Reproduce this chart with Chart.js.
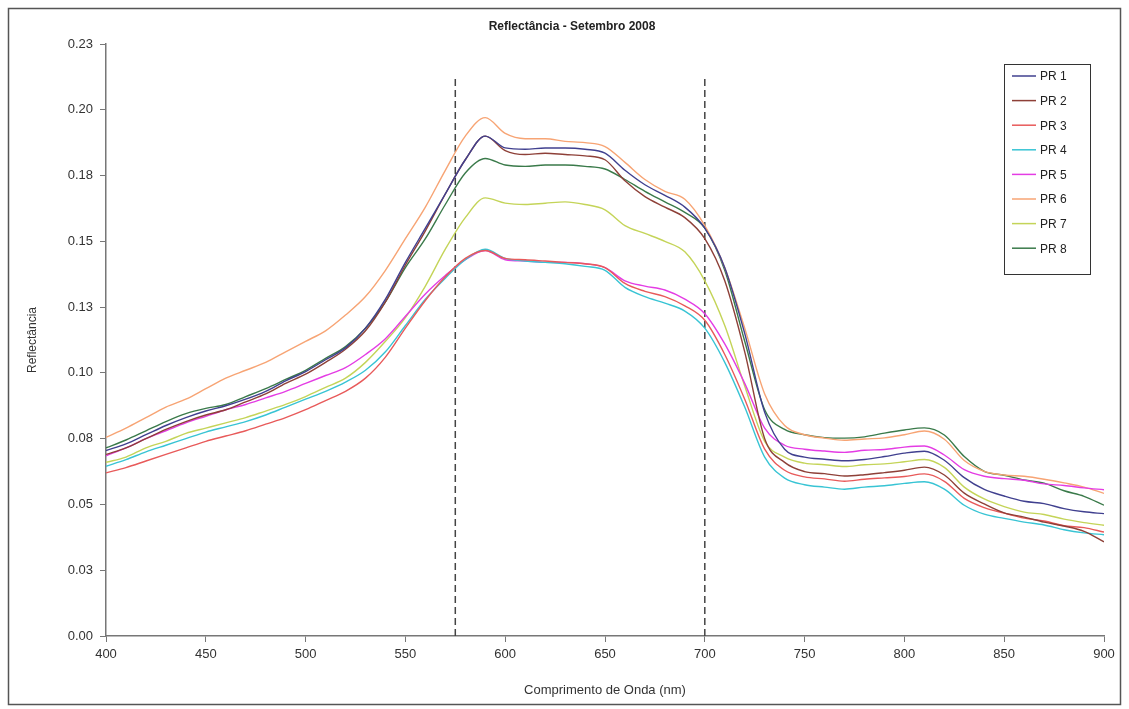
<!DOCTYPE html>
<html>
<head>
<meta charset="utf-8">
<title>Reflectância - Setembro 2008</title>
<script src="https://cdn.jsdelivr.net/npm/chart.js@4.4.1/dist/chart.umd.min.js"></script>
<style>
  html, body { margin: 0; padding: 0; background: #fff; }
  #wrap { position: relative; width: 1129px; height: 709px; }
</style>
</head>
<body>
<div id="wrap"><canvas id="reflChart" width="1129" height="709"></canvas></div>
<script>
// wavelengths (nm)
const wavelengths = [400,410,420,430,440,450,460,470,480,490,500,510,520,530,540,550,560,570,580,590,
  600,610,620,630,640,650,660,670,680,690,700,710,720,730,740,750,760,770,780,790,
  800,810,820,830,840,850,860,870,880,890,900];

const pr1 = [.0705,.073,.0765,.080,.083,.0855,.0875,.090,.093,.097,.1005,.105,.1095,.117,.128,.142,.155,.168,.181,.190,
  .1855,.185,.1855,.1855,.185,.1835,.177,.1715,.1675,.163,.155,.140,.115,.085,.071,.068,.0672,.0666,.0671,.0682,
  .0695,.0702,.0668,.0602,.0557,.0532,.0512,.0503,.0484,.0472,.0465];
const pr2 = [.069,.0715,.075,.0785,.0815,.084,.086,.089,.092,.096,.0995,.104,.109,.116,.127,.141,.154,.168,.181,.190,
  .1845,.183,.1835,.183,.1825,.181,.173,.167,.163,.159,.151,.135,.108,.075,.066,.0625,.0617,.0608,.0613,.0621,
  .063,.0642,.0612,.0543,.0502,.0468,.0452,.0433,.0418,.0398,.0358];
const pr3 = [.062,.064,.0665,.069,.0715,.074,.076,.078,.0805,.083,.086,.0895,.093,.098,.106,.117,.1275,.1365,.1435,.1465,
  .1435,.143,.1425,.142,.1415,.140,.134,.131,.129,.1255,.120,.107,.090,.071,.063,.0605,.0597,.0588,.0596,.0601,
  .0606,.0616,.0588,.0523,.0488,.0467,.0448,.0437,.0419,.0412,.0395];
const pr4 = [.0645,.067,.070,.0725,.075,.0775,.0795,.0815,.084,.087,.090,.093,.0965,.101,.108,.118,.128,.136,.143,.147,
  .1435,.1425,.142,.1415,.1405,.139,.1325,.129,.1265,.1235,.117,.104,.087,.068,.060,.0575,.0566,.0558,.0566,.0571,
  .058,.0586,.0558,.0497,.0463,.0447,.0433,.0422,.0404,.0392,.0385];
const pr5 = [.0685,.0715,.075,.078,.081,.0835,.086,.088,.0905,.093,.096,.099,.102,.107,.113,.1215,.130,.137,.143,.1465,
  .143,.1425,.142,.142,.1415,.140,.135,.133,.1315,.128,.1225,.111,.096,.079,.0725,.071,.0703,.0698,.0706,.0709,
  .0718,.0722,.0688,.0632,.0607,.0598,.0592,.0578,.0572,.0563,.0556];
const pr6 = [.0755,.079,.083,.087,.090,.094,.098,.101,.104,.108,.112,.116,.122,.129,.139,.151,.163,.177,.190,.197,
  .191,.189,.189,.188,.1875,.186,.180,.1735,.169,.166,.156,.140,.117,.092,.080,.0765,.0752,.0744,.0749,.0753,
  .0765,.0779,.0748,.0667,.0626,.0612,.0607,.0596,.0582,.0566,.0542];
const pr7 = [.066,.068,.0715,.074,.077,.079,.081,.083,.0855,.088,.091,.0945,.098,.104,.112,.121,.133,.147,.159,.1665,
  .1645,.164,.1645,.165,.164,.162,.156,.153,.150,.146,.135,.118,.095,.074,.068,.0657,.0651,.0644,.0651,.0654,
  .0662,.0671,.0641,.0566,.0521,.0492,.0471,.0462,.0444,.0431,.0421];
const pr8 = [.0715,.0745,.078,.0815,.0845,.0865,.088,.091,.094,.0975,.101,.1055,.110,.117,.127,.140,.151,.164,.176,.1815,
  .179,.1785,.179,.179,.1785,.1775,.1735,.169,.165,.161,.155,.139,.112,.086,.0785,.0765,.0754,.0752,.0757,.0771,
  .0783,.0791,.0764,.0682,.0626,.0611,.0593,.0581,.0552,.0531,.0497];

const seriesNames = ["PR 1","PR 2","PR 3","PR 4","PR 5","PR 6","PR 7","PR 8"];
const seriesValues = [pr1, pr2, pr3, pr4, pr5, pr6, pr7, pr8];
const seriesColors = ["#40408f","#8e4038","#e85a5a","#38c4d4","#e43ce4","#f7a474","#c4d458","#3a7a4a"];

// vertical band limits (nm) and the height the dashed lines reach
const bandLimits = [575, 700];
const bandTop = 0.212;

const xTicks = [400,450,500,550,600,650,700,750,800,850,900];

const chartTitle = 'Reflectância - Setembro 2008';
const fontFamily = '"Liberation Sans", Arial, sans-serif';

const datasets = seriesNames.map((name, i) => ({
  label: name,
  data: wavelengths.map((w, j) => ({ x: w, y: seriesValues[i][j] })),
  borderColor: seriesColors[i],
  borderWidth: 1.4,
  pointRadius: 0,
  cubicInterpolationMode: 'monotone',
  fill: false
}));

bandLimits.forEach(b => {
  datasets.push({
    label: '',
    data: [{ x: b, y: 0 }, { x: b, y: bandTop }],
    borderColor: '#444',
    borderWidth: 1.5,
    borderDash: [7, 4],
    pointRadius: 0,
    fill: false
  });
});

// frame, title and legend box drawn on top
const framePlugin = {
  id: 'frame',
  afterDraw(chart) {
    const ctx = chart.ctx;
    ctx.save();
    ctx.strokeStyle = '#555';
    ctx.lineWidth = 1.5;
    ctx.strokeRect(8.5, 8.5, 1112, 696);

    // title (centred a bit right of canvas centre, as in the original)
    ctx.fillStyle = '#222';
    ctx.font = 'bold 12px ' + fontFamily;
    ctx.textAlign = 'center';
    ctx.textBaseline = 'middle';
    ctx.fillText(chartTitle, 572, 27);

    // legend
    const x0 = 1004, y0 = 64, w = 86, h = 210;
    ctx.fillStyle = '#fff';
    ctx.fillRect(x0, y0, w, h);
    ctx.strokeStyle = '#333';
    ctx.lineWidth = 1;
    ctx.strokeRect(x0 + 0.5, y0 + 0.5, w, h);
    ctx.font = '12px ' + fontFamily;
    ctx.textAlign = 'left';
    seriesNames.forEach((name, i) => {
      const y = 76 + i * 24.6;
      ctx.strokeStyle = seriesColors[i];
      ctx.lineWidth = 1.5;
      ctx.beginPath();
      ctx.moveTo(1012, y);
      ctx.lineTo(1036, y);
      ctx.stroke();
      ctx.fillStyle = '#222';
      ctx.fillText(name, 1040, y + 1);
    });
    ctx.restore();
  }
};

new Chart(document.getElementById('reflChart'), {
  type: 'line',
  data: { datasets: datasets },
  options: {
    responsive: false,
    animation: false,
    layout: { padding: { left: 0, right: 25, top: 44, bottom: 0 } },
    plugins: {
      legend: { display: false },
      tooltip: { enabled: false },
      title: { display: false }
    },
    scales: {
      x: {
        type: 'linear',
        min: 400,
        max: 900,
        afterBuildTicks: axis => { axis.ticks = xTicks.map(v => ({ value: v })); },
        afterFit: axis => { axis.height = 73; },
        grid: { drawOnChartArea: false, drawTicks: true, tickLength: 6, color: '#777' },
        border: { color: '#777', width: 1.5 },
        ticks: {
          color: '#333',
          padding: 5,
          maxRotation: 0,
          font: { family: fontFamily, size: 13 }
        },
        title: {
          display: true,
          text: 'Comprimento de Onda (nm)',
          color: '#333',
          padding: { top: 0, bottom: 11 },
          font: { family: fontFamily, size: 13 }
        }
      },
      y: {
        min: 0,
        max: 0.225,
        afterFit: axis => { axis.width = 106; },
        grid: { drawOnChartArea: false, drawTicks: true, tickLength: 6, color: '#777' },
        border: { color: '#777', width: 1.5 },
        ticks: {
          stepSize: 0.025,
          color: '#333',
          padding: 7,
          font: { family: fontFamily, size: 13 },
          callback: v => (Math.round(Math.round(v * 1000) / 10) / 100).toFixed(2)
        },
        title: {
          display: true,
          text: 'Reflectância',
          color: '#333',
          padding: { top: 25, bottom: 0 },
          font: { family: fontFamily, size: 12 }
        }
      }
    }
  },
  plugins: [framePlugin]
});
</script>
</body>
</html>
